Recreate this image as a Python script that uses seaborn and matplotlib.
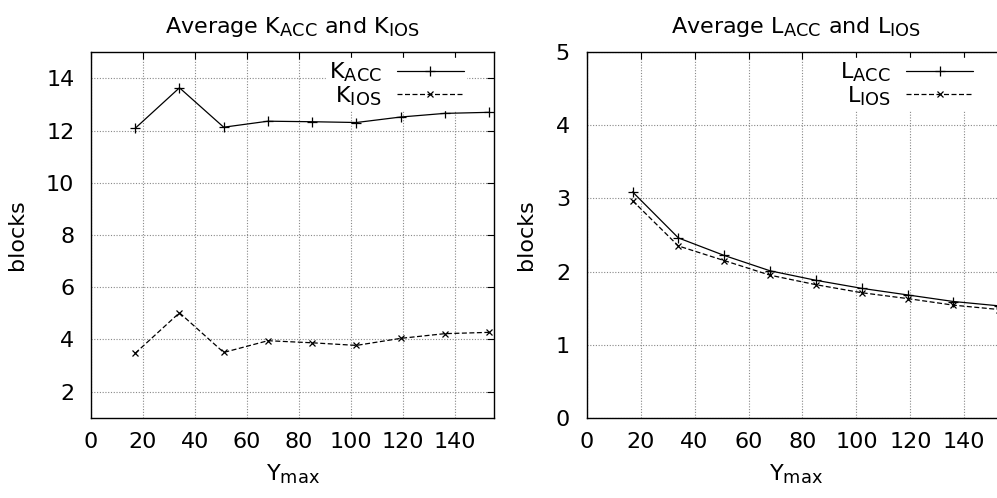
import seaborn as sns
import numpy as np
from matplotlib import pyplot as plt
import matplotlib._mathtext as mt
import pandas as pd

# Y_max values shared by both panels
y_max = [17, 34, 51, 68, 85, 102, 119, 136, 153]

k_acc = [12.09, 13.64, 12.13, 12.36, 12.34, 12.31, 12.52, 12.66, 12.70]
k_ios = [3.47, 5.02, 3.50, 3.95, 3.87, 3.77, 4.04, 4.22, 4.27]

l_acc = [3.09, 2.46, 2.22, 2.01, 1.88, 1.77, 1.68, 1.59, 1.53]
l_ios = [2.97, 2.35, 2.15, 1.95, 1.82, 1.71, 1.63, 1.54, 1.48]

k_ticks = [2, 4, 6, 8, 10, 12, 14]
l_ticks = [0, 1, 2, 3, 4, 5]
x_ticks = [0, 20, 40, 60, 80, 100, 120, 140]

# gnuplot-like bigger subscripts
mt.SHRINK_FACTOR = 0.8

sns.set_style('white')
plt.rcParams['font.family'] = ['DejaVu Sans']
plt.rcParams['mathtext.fontset'] = 'custom'
plt.rcParams['mathtext.rm'] = 'DejaVu Sans'
plt.rcParams['mathtext.it'] = 'DejaVu Sans'
plt.rcParams['text.color'] = 'black'
plt.rcParams['axes.labelcolor'] = 'black'

FS = 16

df_k = pd.DataFrame({'ymax': y_max, 'acc': k_acc, 'ios': k_ios})
df_l = pd.DataFrame({'ymax': y_max, 'acc': l_acc, 'ios': l_ios})

fig = plt.figure(figsize=(9.97, 4.98), dpi=100)
W, H = 997, 498
ax1 = fig.add_axes([91 / W, 1 - 417.7 / H, (494.3 - 91) / W, (417.7 - 52.3) / H])
ax2 = fig.add_axes([586.7 / W, 1 - 417.7 / H, 418 / W, (417.7 - 52.3) / H])


def panel(ax, df, name, ticks, ylim):
    sns.lineplot(data=df, x='ymax', y='acc', ax=ax, color='black', lw=0.9,
                 marker='+', markersize=7, mew=0.9, mec='black',
                 label=r'%s$_{\mathrm{ACC}}$' % name)
    sns.lineplot(data=df, x='ymax', y='ios', ax=ax, color='black', lw=0.9,
                 linestyle=(0, (4, 2)), marker='x', markersize=5, mew=0.9,
                 mec='black', label=r'%s$_{\mathrm{IOS}}$' % name)
    ax.set_xlim(0, 155)
    ax.set_ylim(*ylim)
    ax.set_xticks(x_ticks)
    ax.set_yticks(ticks)
    ax.grid(True, color='#888888', linestyle=(0, (1, 1.5)), lw=0.8)
    ax.tick_params(direction='in', length=5, width=0.8, top=True, right=True,
                   labelsize=FS, colors='black')
    ax.tick_params(axis='x', pad=10)
    ax.tick_params(axis='y', pad=12)
    for s in ax.spines.values():
        s.set_color('black')
        s.set_linewidth(1)
    ax.set_xlabel(r'Y$_{\mathrm{max}}$', fontsize=FS, labelpad=8)
    ax.set_ylabel('blocks', fontsize=FS, labelpad=14)
    ax.set_title(r'Average %s$_{\mathrm{ACC}}$ and %s$_{\mathrm{IOS}}$' % (name, name),
                 fontsize=FS, pad=14)
    leg = ax.legend(loc='upper right', bbox_to_anchor=(0.935, 0.99),
                    fontsize=FS, markerfirst=False,
                    frameon=True, fancybox=False, edgecolor='white',
                    facecolor='white', framealpha=1, handlelength=3.0,
                    handletextpad=0.7, labelspacing=0.0, borderpad=0.1,
                    borderaxespad=0.1)
    leg.set_zorder(5)


panel(ax1, df_k, 'K', k_ticks, (1, 15))
panel(ax2, df_l, 'L', l_ticks, (0, 5))

fig.savefig('out.png', dpi=100)
